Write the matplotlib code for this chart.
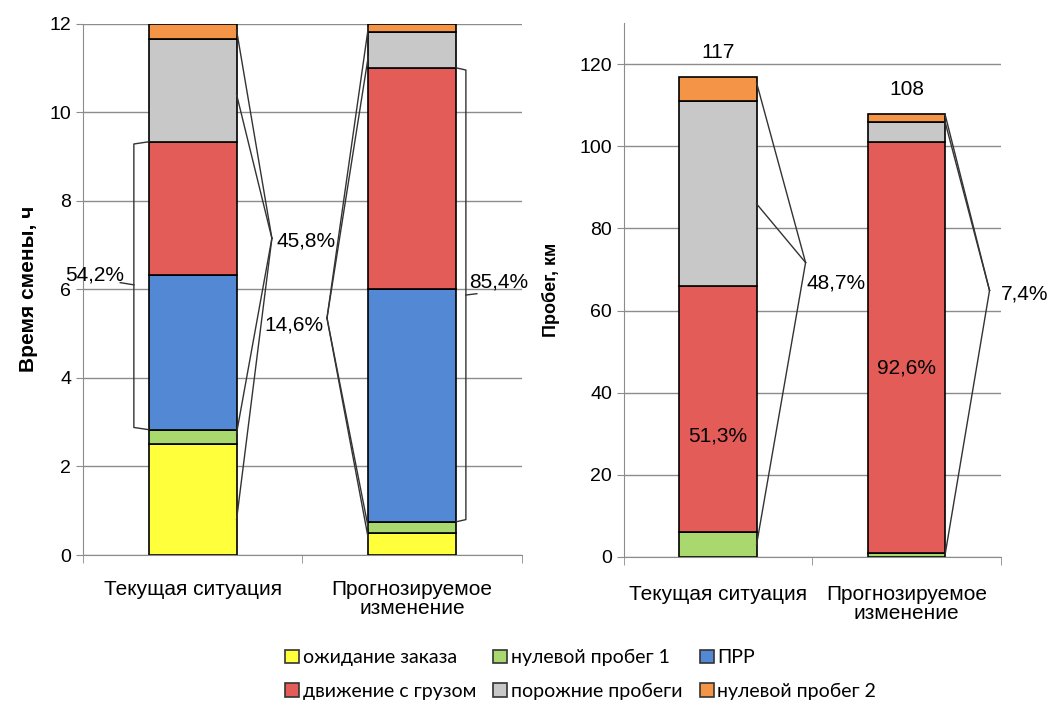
import numpy as np
import matplotlib
matplotlib.use("Agg")
import matplotlib.pyplot as plt
from matplotlib.patches import Patch

plt.rcParams['font.family'] = ['Liberation Sans', 'DejaVu Sans']

# Data
categories = ["Текущая ситуация", "Прогнозируемое\nизменение"]
segments = ["ожидание заказа", "нулевой пробег 1", "ПРР",
            "движение с грузом", "порожние пробеги", "нулевой пробег 2"]
colors = ["#FFFF3B", "#A8D86E", "#5288D4", "#E35C58", "#C8C8C8", "#F39447"]

# shift time, hours (left chart)
time_current = [2.5, 0.33, 3.5, 3.0, 2.33, 0.34]
time_forecast = [0.5, 0.25, 5.25, 5.0, 0.8, 0.2]

# mileage, km (right chart) - no waiting / loading segments
km_segments = ["нулевой пробег 1", "движение с грузом", "порожние пробеги", "нулевой пробег 2"]
km_current = [6, 60, 45, 6]
km_forecast = [1, 100, 5, 2]
km_totals = [117, 108]

fig = plt.figure(figsize=(10.5, 7.04), dpi=100)
ax1 = fig.add_axes([0.079, 0.2116, 0.418, 0.755])
ax2 = fig.add_axes([0.594, 0.209, 0.359, 0.758])

x = np.arange(len(categories))


def style_axis(ax, ylim, yticks, pad):
    ax.set_xlim(-0.5, 1.5)
    ax.set_ylim(*ylim)
    ax.set_yticks(yticks)
    ax.yaxis.grid(True, color="#8c8c8c", linewidth=1)
    ax.set_axisbelow(True)
    for s in ["top", "right"]:
        ax.spines[s].set_visible(False)
    for s in ["left", "bottom"]:
        ax.spines[s].set_color("#8c8c8c")
    ax.tick_params(axis="y", length=5, color="#8c8c8c", labelsize=14)
    ax.set_xticks(x)
    ax.set_xticklabels(categories, fontsize=15, linespacing=1.0)
    ax.tick_params(axis="x", length=0, pad=pad)
    ax.set_xticks([-0.5, 0.5, 1.5], minor=True)
    ax.tick_params(axis="x", which="minor", length=6, color="#8c8c8c")


# Left chart: stacked bars
bottom = np.zeros(2)
for i, name in enumerate(segments):
    vals = np.array([time_current[i], time_forecast[i]])
    ax1.bar(x, vals, 0.4, bottom=bottom, color=colors[i],
            edgecolor="black", linewidth=1.2)
    bottom += vals
style_axis(ax1, (0, 12), range(0, 13, 2), 18)
ax1.set_ylabel("Время смены, ч", fontsize=15, fontweight="bold", labelpad=8)

ln = dict(color="#333333", linewidth=1, clip_on=False)
pct = 15
# bracket 54,2% around ПРР + движение (current)
lo = sum(time_current[:2]); hi = sum(time_current[:4])
ax1.plot([-0.2, -0.268, -0.268, -0.2], [hi, hi - 0.05, lo + 0.05, lo], **ln)
ax1.plot([-0.268, -0.33], [6.1, 6.15], **ln)
ax1.text(-0.31, 6.1, "54,2%", ha="right", va="bottom", fontsize=pct)
# leader lines 45,8%
for yv in [11.85, 10.4, 2.75, 0.8]:
    ax1.plot([0.2, 0.361], [yv, 7.15], **ln)
ax1.text(0.38, 7.1, "45,8%", ha="left", va="center", fontsize=pct)
# leader lines 14,6%
for yv in [11.9, 11.25, 0.62, 0.38]:
    ax1.plot([0.8, 0.612], [yv, 5.35], **ln)
ax1.text(0.595, 5.2, "14,6%", ha="right", va="center", fontsize=pct)
# bracket 85,4% (forecast)
lo = sum(time_forecast[:2]); hi = sum(time_forecast[:4])
ax1.plot([1.2, 1.245, 1.245, 1.2], [hi, hi - 0.05, lo + 0.05, lo], **ln)
ax1.plot([1.245, 1.295], [5.87, 5.9], **ln)
ax1.text(1.26, 5.95, "85,4%", ha="left", va="bottom", fontsize=pct)

# Right chart: stacked bars
km_colors = colors[1:2] + colors[3:]
bottom = np.zeros(2)
for i, name in enumerate(km_segments):
    vals = np.array([km_current[i], km_forecast[i]])
    ax2.bar(x, vals, 0.41, bottom=bottom, color=km_colors[i],
            edgecolor="black", linewidth=1.2)
    bottom += vals
style_axis(ax2, (0, 130), range(0, 121, 20), 20)
ax2.set_ylabel("Пробег, км", fontsize=13, fontweight="bold", labelpad=14)

for xi, t in zip(x, km_totals):
    ax2.text(xi, t + 3.5, str(t), ha="center", va="bottom", fontsize=pct)

ax2.text(0, 29.5, "51,3%", ha="center", va="center", fontsize=pct)
ax2.text(1, 46, "92,6%", ha="center", va="center", fontsize=pct)

for yv in [115.5, 86, 3]:
    ax2.plot([0.205, 0.465], [yv, 71.7], **ln)
ax2.text(0.47, 66.8, "48,7%", ha="left", va="center", fontsize=pct)
for yv in [107.8, 106, 0.5]:
    ax2.plot([1.205, 1.441], [yv, 64.9], **ln)
ax2.text(1.5, 64.1, "7,4%", ha="left", va="center", fontsize=pct)

# Legend (two rows of three)
handles = [Patch(facecolor=c, edgecolor="#333333", linewidth=1.2) for c in colors]
order = [0, 3, 1, 4, 2, 5]
fig.legend([handles[i] for i in order], [segments[i] for i in order],
           loc="center", bbox_to_anchor=(0.553, 0.042), ncol=3, frameon=False,
           prop={"family": "Lato", "size": 14}, handlelength=0.7, handleheight=0.7,
           handletextpad=0.2, columnspacing=0.9, labelspacing=0.85)

fig.savefig("out.png", dpi=100)
